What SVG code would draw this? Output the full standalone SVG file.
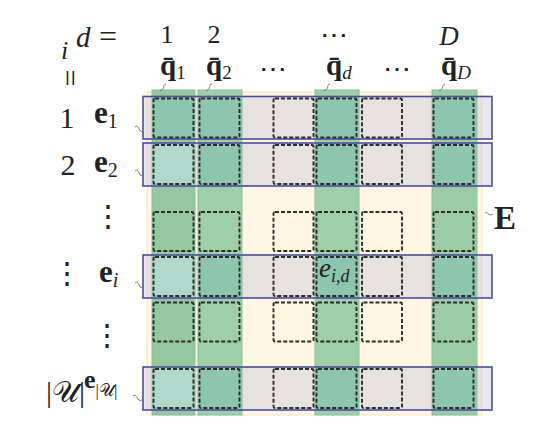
<svg xmlns="http://www.w3.org/2000/svg" width="556" height="434" viewBox="0 0 556 434">
<style>
.t{font-family:"Liberation Serif","DejaVu Serif",serif;fill:#222}
.it{font-style:italic}
.b{font-weight:bold}
.dots{font-family:"DejaVu Serif",serif;fill:#222}
.rowf{fill:rgb(195,195,220);fill-opacity:0.4}
.rowo{fill:none;stroke:#4d4d9e;stroke-width:1.6}
.col{stroke:#84c29e;stroke-width:1}
.x{fill:#8dc5ae}
.lt{fill:#b1d8cd}
.dash{fill:none;stroke:#2b2b2b;stroke-width:1.9;stroke-dasharray:4 2}
.sq{fill:none;stroke:#777;stroke-width:1}
</style>
<rect width="556" height="434" fill="#fff"/>
<g id="matrix-E">
<rect x="147" y="92" width="335" height="323" fill="#fff6e3" stroke="#fbe7b5" stroke-width="1"/>
</g>
<g id="row-fills">
<rect class="rowf" x="143" y="96.5" width="349" height="42.5"/>
<rect class="rowf" x="143" y="143" width="349" height="43"/>
<rect class="rowf" x="143" y="255" width="349" height="43"/>
<rect class="rowf" x="143" y="367" width="349" height="43"/>
</g>
<g id="col-1">
<rect class="col" x="152" y="90" width="43" height="325" fill="#96c7a1"/>
<rect class="x" x="152.5" y="96.5" width="42" height="42.5"/>
<rect class="lt" x="152.5" y="143" width="42" height="43"/>
<rect class="lt" x="152.5" y="255" width="42" height="43"/>
<rect class="lt" x="152.5" y="367" width="42" height="43"/>
</g>
<g id="col-2">
<rect class="col" x="198" y="90" width="44" height="325" fill="#a0cea9"/>
<rect class="x" x="198.5" y="96.5" width="43" height="42.5"/>
<rect class="x" x="198.5" y="143" width="43" height="43"/>
<rect class="x" x="198.5" y="255" width="43" height="43"/>
<rect class="x" x="198.5" y="367" width="43" height="43"/>
</g>
<g id="col-d">
<rect class="col" x="315" y="90" width="44" height="325" fill="#9fcea8"/>
<rect class="x" x="315.5" y="96.5" width="43" height="42.5"/>
<rect class="x" x="315.5" y="143" width="43" height="43"/>
<rect class="x" x="315.5" y="255" width="43" height="43"/>
<rect class="x" x="315.5" y="367" width="43" height="43"/>
</g>
<g id="col-D">
<rect class="col" x="432" y="90" width="45" height="325" fill="#9ccca6"/>
<rect class="x" x="432.5" y="96.5" width="44" height="42.5"/>
<rect class="x" x="432.5" y="143" width="44" height="43"/>
<rect class="x" x="432.5" y="255" width="44" height="43"/>
<rect class="x" x="432.5" y="367" width="44" height="43"/>
</g>
<g id="row-outlines">
<rect class="rowo" x="143" y="96.5" width="349" height="42.5"/>
<rect class="rowo" x="143" y="143" width="349" height="43"/>
<rect class="rowo" x="143" y="255" width="349" height="43"/>
<rect class="rowo" x="143" y="367" width="349" height="43"/>
</g>
<g id="cells">
<g transform="translate(0,98.5)">
<rect class="dash" x="153.5" y="0" width="40" height="39" rx="1.5"/><rect class="dash" x="199.5" y="0" width="40" height="39" rx="1.5"/><rect class="dash" x="273.5" y="0" width="40" height="39" rx="1.5"/><rect class="dash" x="316.5" y="0" width="40" height="39" rx="1.5"/><rect class="dash" x="362" y="0" width="40" height="39" rx="1.5"/><rect class="dash" x="433.5" y="0" width="40" height="39" rx="1.5"/>
</g>
<g transform="translate(0,145)">
<rect class="dash" x="153.5" y="0" width="40" height="39" rx="1.5"/><rect class="dash" x="199.5" y="0" width="40" height="39" rx="1.5"/><rect class="dash" x="273.5" y="0" width="40" height="39" rx="1.5"/><rect class="dash" x="316.5" y="0" width="40" height="39" rx="1.5"/><rect class="dash" x="362" y="0" width="40" height="39" rx="1.5"/><rect class="dash" x="433.5" y="0" width="40" height="39" rx="1.5"/>
</g>
<g transform="translate(0,212)">
<rect class="dash" x="153.5" y="0" width="40" height="39" rx="1.5"/><rect class="dash" x="199.5" y="0" width="40" height="39" rx="1.5"/><rect class="dash" x="273.5" y="0" width="40" height="39" rx="1.5"/><rect class="dash" x="316.5" y="0" width="40" height="39" rx="1.5"/><rect class="dash" x="362" y="0" width="40" height="39" rx="1.5"/><rect class="dash" x="433.5" y="0" width="40" height="39" rx="1.5"/>
</g>
<g transform="translate(0,257)">
<rect class="dash" x="153.5" y="0" width="40" height="39" rx="1.5"/><rect class="dash" x="199.5" y="0" width="40" height="39" rx="1.5"/><rect class="dash" x="273.5" y="0" width="40" height="39" rx="1.5"/><rect class="dash" x="316.5" y="0" width="40" height="39" rx="1.5"/><rect class="dash" x="362" y="0" width="40" height="39" rx="1.5"/><rect class="dash" x="433.5" y="0" width="40" height="39" rx="1.5"/>
</g>
<g transform="translate(0,302.5)">
<rect class="dash" x="153.5" y="0" width="40" height="39" rx="1.5"/><rect class="dash" x="199.5" y="0" width="40" height="39" rx="1.5"/><rect class="dash" x="273.5" y="0" width="40" height="39" rx="1.5"/><rect class="dash" x="316.5" y="0" width="40" height="39" rx="1.5"/><rect class="dash" x="362" y="0" width="40" height="39" rx="1.5"/><rect class="dash" x="433.5" y="0" width="40" height="39" rx="1.5"/>
</g>
<g transform="translate(0,369)">
<rect class="dash" x="153.5" y="0" width="40" height="39" rx="1.5"/><rect class="dash" x="199.5" y="0" width="40" height="39" rx="1.5"/><rect class="dash" x="273.5" y="0" width="40" height="39" rx="1.5"/><rect class="dash" x="316.5" y="0" width="40" height="39" rx="1.5"/><rect class="dash" x="362" y="0" width="40" height="39" rx="1.5"/><rect class="dash" x="433.5" y="0" width="40" height="39" rx="1.5"/>
</g>
<text class="t" x="319" y="277" font-size="27"><tspan class="it">e</tspan><tspan class="it" font-size="18" dy="5">i,d</tspan></text>
</g>
<g id="connectors">
<path class="sq" d="M135,127 C139,123 139,134 143,131"/>
<path class="sq" d="M135,171 C139,167 139,178 142,175"/>
<path class="sq" d="M135,283 C139,279 139,290 142,287"/>
<path class="sq" d="M133,396 C137,392 137,403 142,400"/>
<path class="sq" d="M166,84 C162,85 166,88 160,91"/>
<path class="sq" d="M212,84 C208,85 212,88 206,91"/>
<path class="sq" d="M330,84 C326,85 330,88 324,91"/>
<path class="sq" d="M445,84 C441,85 445,88 439,91"/>
<path class="sq" d="M485,213 C488,211 488,217 493,214"/>
</g>
<g id="header">
<text class="t it" x="61" y="59" font-size="26">i</text>
<text class="t it" x="76" y="47" font-size="29">d</text>
<text class="t" x="99" y="47" font-size="32">=</text>
<text class="t" x="0" y="0" font-size="30" transform="translate(60,78) rotate(90)" text-anchor="middle">=</text>
<text class="t" x="167" y="43" font-size="26" text-anchor="middle">1</text>
<text class="t" x="214" y="43" font-size="26" text-anchor="middle">2</text>
<text class="dots" x="334" y="44" font-size="28" text-anchor="middle">⋯</text>
<text class="t it" x="449" y="45" font-size="27" text-anchor="middle">D</text>
</g>
<g id="q-labels">
<text class="t" x="160" y="75" font-size="29"><tspan class="b">q̄</tspan><tspan font-size="19" dy="4">1</tspan></text>
<text class="t" x="206" y="75" font-size="29"><tspan class="b">q̄</tspan><tspan font-size="19" dy="4">2</tspan></text>
<text class="dots" x="273" y="78" font-size="28" text-anchor="middle">⋯</text>
<text class="t" x="326" y="75" font-size="29"><tspan class="b">q̄</tspan><tspan class="it" font-size="19" dy="4">d</tspan></text>
<text class="dots" x="397" y="78" font-size="28" text-anchor="middle">⋯</text>
<text class="t" x="441" y="75" font-size="29"><tspan class="b">q̄</tspan><tspan class="it" font-size="19" dy="4">D</tspan></text>
</g>
<g id="row-labels">
<text class="t" x="67" y="128" font-size="30" text-anchor="middle">1</text>
<text class="t" x="94" y="123" font-size="31"><tspan class="b">e</tspan><tspan font-size="20" dy="5">1</tspan></text>
<text class="t" x="68" y="175" font-size="30" text-anchor="middle">2</text>
<text class="t" x="94" y="172" font-size="31"><tspan class="b">e</tspan><tspan font-size="20" dy="5">2</tspan></text>
<text class="dots" x="108" y="226" font-size="30" text-anchor="middle">⋮</text>
<text class="dots" x="67" y="283" font-size="30" text-anchor="middle">⋮</text>
<text class="t" x="99" y="282" font-size="31"><tspan class="b">e</tspan><tspan class="it" font-size="20" dy="5">i</tspan></text>
<text class="dots" x="107" y="345" font-size="30" text-anchor="middle">⋮</text>
<text class="t" x="46" y="402" font-size="30">|𝒰|</text>
<text class="t" x="84" y="388" font-size="26"><tspan class="b">e</tspan><tspan font-size="17" dy="8">|𝒰|</tspan></text>
</g>
<g id="label-E">
<text class="t b" x="494" y="229" font-size="33">E</text>
</g>
</svg>
